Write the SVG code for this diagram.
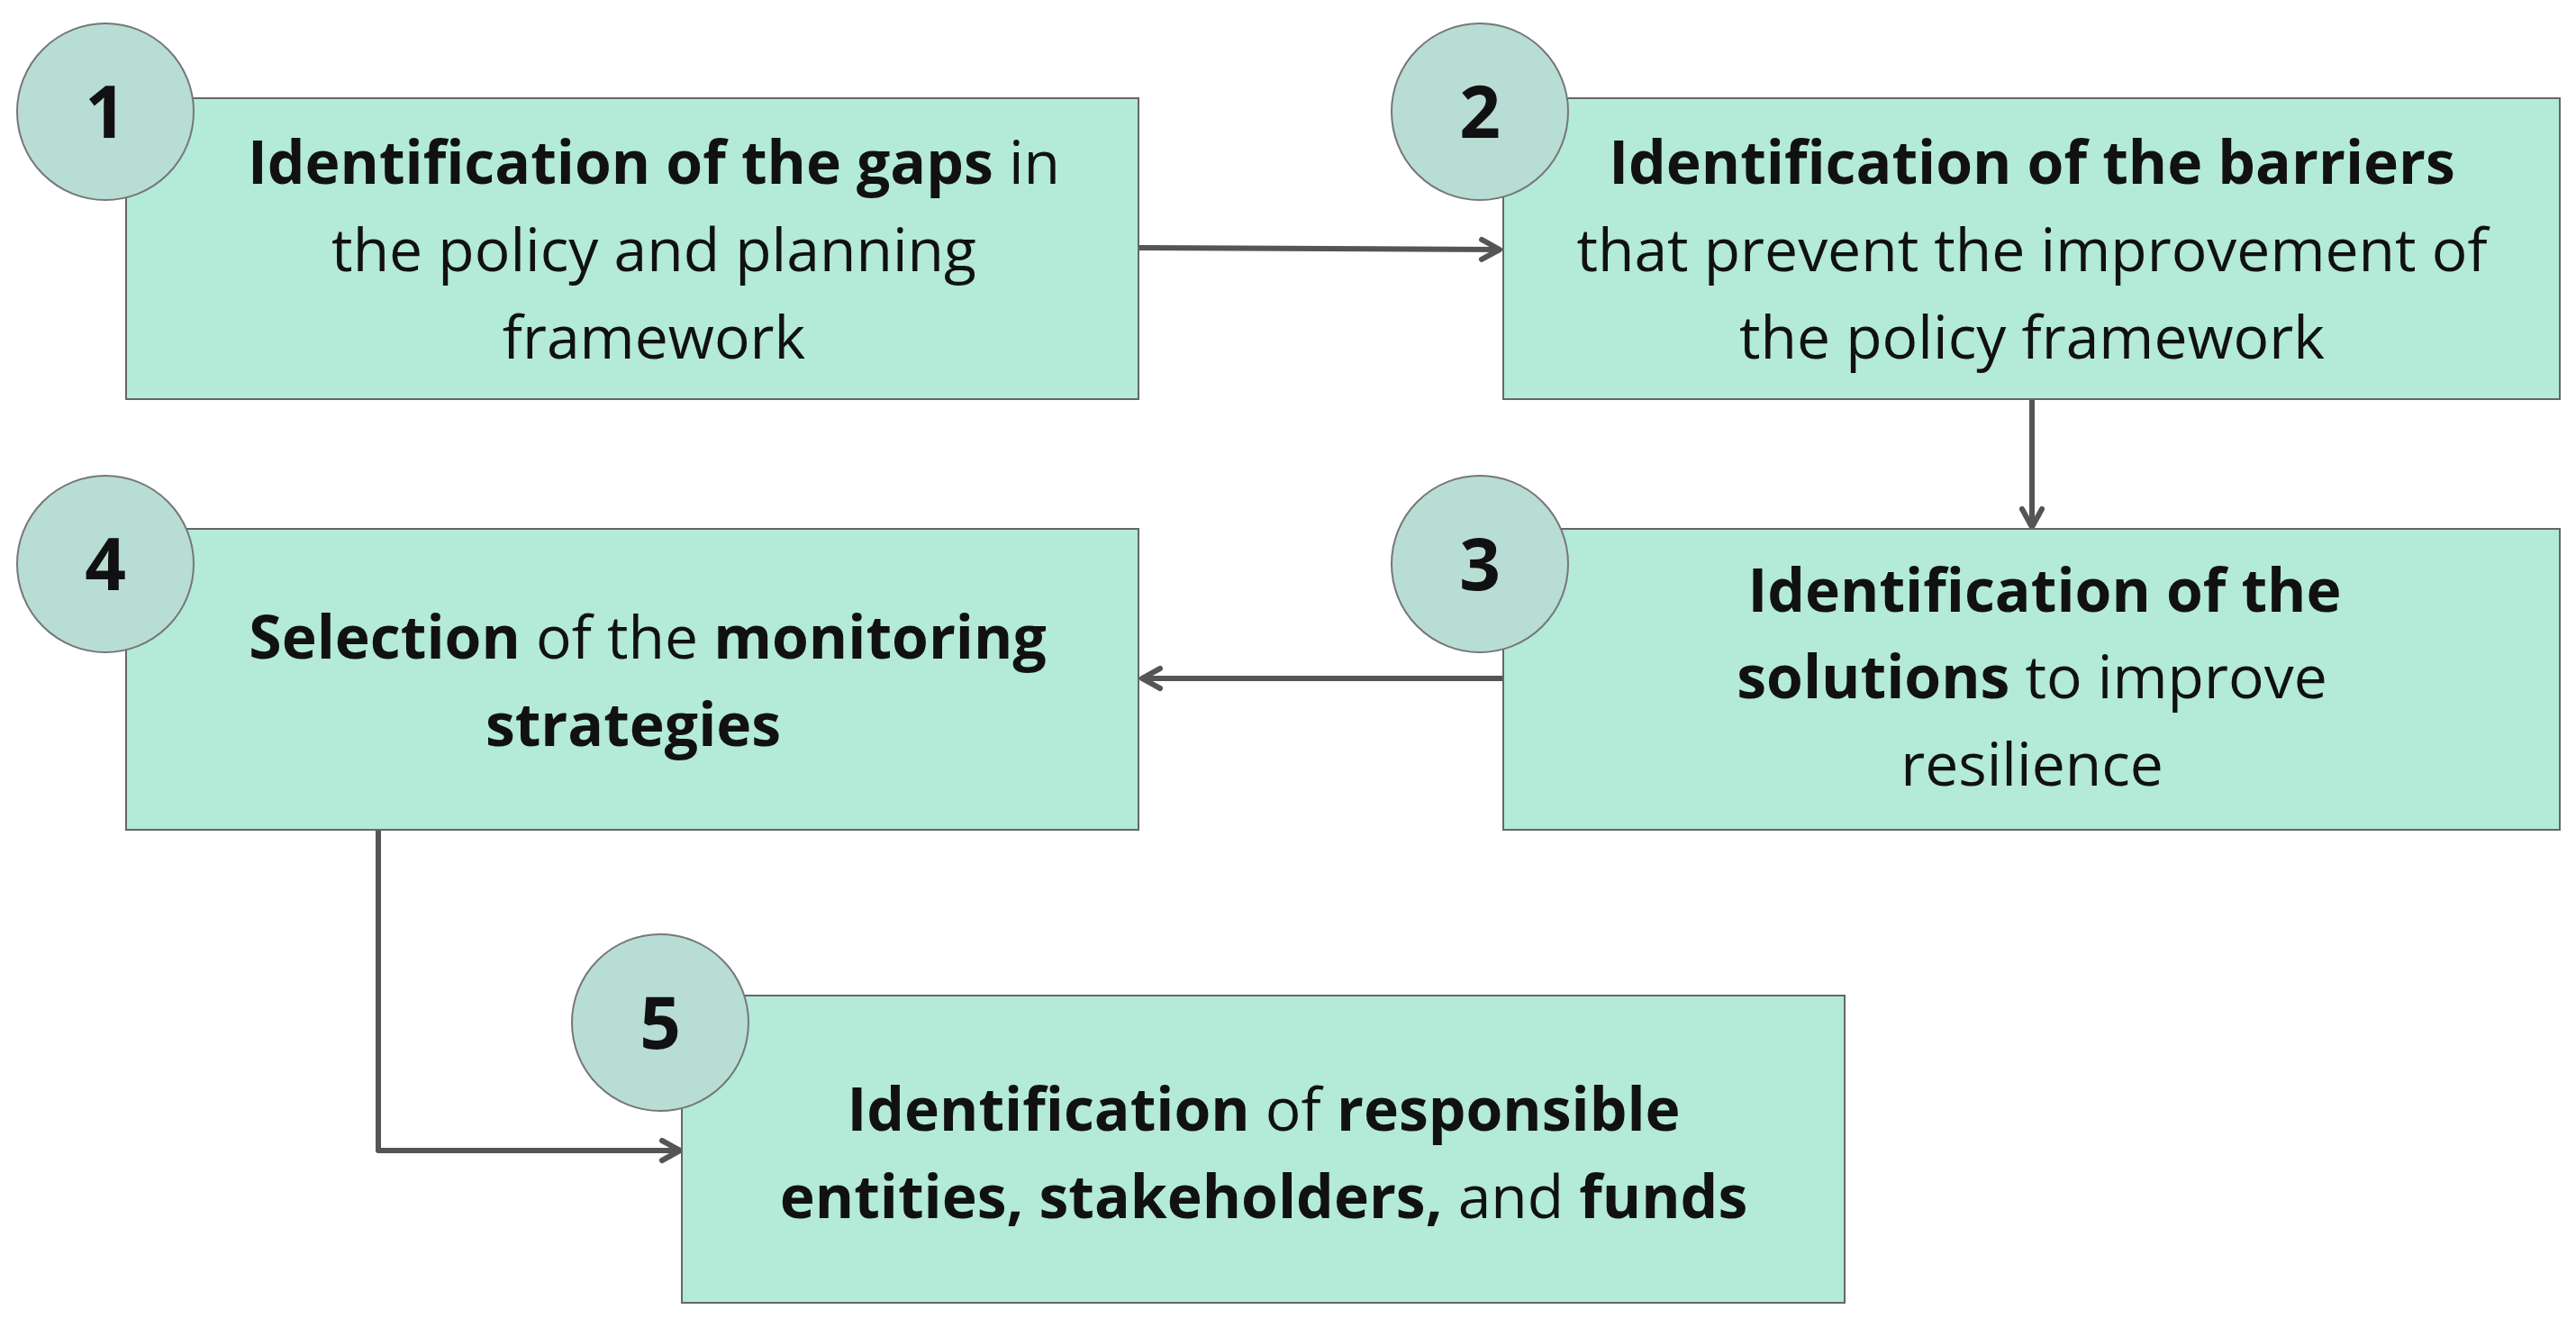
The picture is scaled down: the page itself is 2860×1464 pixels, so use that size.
<svg xmlns="http://www.w3.org/2000/svg" width="2860" height="1464" viewBox="0 0 2860 1464">
<style>
.box{fill:#b3ead8;stroke:#666;stroke-width:2}
.circ{fill:#b8ddd5;stroke:#777;stroke-width:2}
.num{font-family:"Open Sans","Noto Sans",sans-serif;font-weight:bold;font-size:80px;fill:#111;text-anchor:middle}
.t{font-family:"Open Sans","Noto Sans",sans-serif;font-size:66px;fill:#111;text-anchor:middle}
.b{font-weight:bold}
.c{fill:none;stroke:#555;stroke-width:6;stroke-linejoin:round}
</style>
<defs><marker id="ah" markerWidth="10" markerHeight="10" refX="8" refY="5" orient="auto" markerUnits="userSpaceOnUse" viewBox="0 0 10 10"><path d="M1,1 L8,5 L1,9" fill="none" stroke="#555" stroke-width="1.5"/></marker>
<marker id="a" viewBox="0 0 30 30" refX="26" refY="15" markerWidth="30" markerHeight="30" orient="auto" markerUnits="userSpaceOnUse"><path d="M6,4 L26,15 L6,26" fill="none" stroke="#555" stroke-width="6" stroke-linecap="round" stroke-linejoin="round"/></marker></defs>
<g id="connectors">
<path class="c" d="M1264,275 L1665,277" marker-end="url(#a)"/>
<path class="c" d="M2256,443 L2256,585" marker-end="url(#a)"/>
<path class="c" d="M1669,753 L1268,753" marker-end="url(#a)"/>
<path class="c" d="M420,921 L420,1277 L755,1277" marker-end="url(#a)"/>
</g>
<g id="n1"><rect class="box" x="140" y="109" width="1124" height="334"/><circle class="circ" cx="117" cy="124" r="98"/><text class="num" x="117" y="153">1</text>
<text class="t" x="726" y="204"><tspan class="b">Identification of the gaps</tspan> in</text><text class="t" x="726" y="301">the policy and planning</text><text class="t" x="726" y="398">framework</text></g>
<g id="n2"><rect class="box" x="1669" y="109" width="1173" height="334"/><circle class="circ" cx="1643" cy="124" r="98"/><text class="num" x="1643" y="153">2</text>
<text class="t b" x="2256" y="204">Identification of the barriers</text><text class="t" x="2256" y="301">that prevent the improvement of</text><text class="t" x="2256" y="398">the policy framework</text></g>
<g id="n3"><rect class="box" x="1669" y="587" width="1173" height="334"/><circle class="circ" cx="1643" cy="626" r="98"/><text class="num" x="1643" y="655">3</text>
<text class="t b" x="2270" y="679">Identification of the</text><text class="t" x="2256" y="775"><tspan class="b">solutions</tspan>  to improve</text><text class="t" x="2256" y="872">resilience</text></g>
<g id="n4"><rect class="box" x="140" y="587" width="1124" height="334"/><circle class="circ" cx="117" cy="626" r="98"/><text class="num" x="117" y="655">4</text>
<text class="t" x="719" y="731"><tspan class="b">Selection</tspan> of the <tspan class="b">monitoring</tspan></text><text class="t b" x="703" y="828">strategies</text></g>
<g id="n5"><rect class="box" x="757" y="1105" width="1291" height="341"/><circle class="circ" cx="733" cy="1135" r="98"/><text class="num" x="733" y="1164">5</text>
<text class="t" x="1403" y="1255"><tspan class="b">Identification</tspan> of <tspan class="b">responsible</tspan></text><text class="t" x="1403" y="1352"><tspan class="b">entities, stakeholders,</tspan> and <tspan class="b">funds</tspan></text></g>
</svg>
